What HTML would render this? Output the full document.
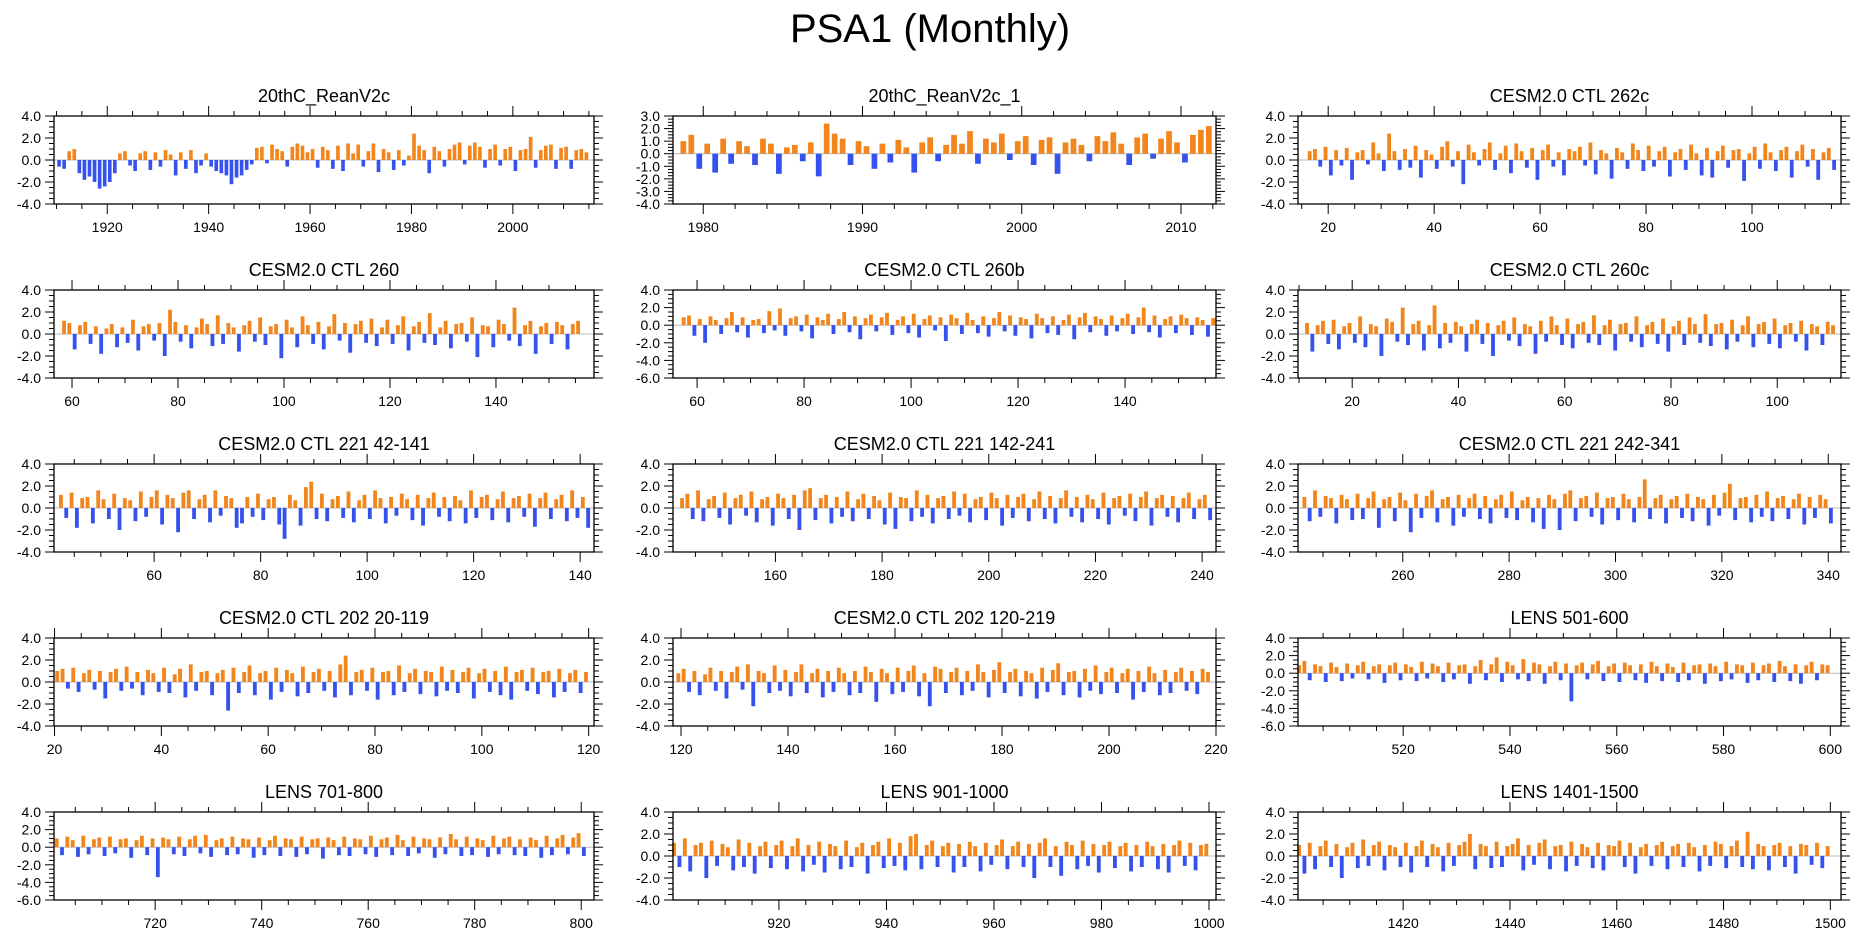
<!DOCTYPE html>
<html><head><meta charset="utf-8"><style>
html,body{margin:0;padding:0;background:#fff;}
svg{display:block;font-family:"Liberation Sans",Arial,sans-serif;}
</style></head><body>
<svg id="chart" width="1861" height="936" viewBox="0 0 1861 936" xmlns="http://www.w3.org/2000/svg">
<rect width="1861" height="936" fill="#fff"/>
<text x="930" y="42" font-size="40" text-anchor="middle">PSA1 (Monthly)</text>
</svg>
<script>
const panelTitles = ["20thC_ReanV2c","20thC_ReanV2c_1","CESM2.0 CTL 262c","CESM2.0 CTL 260","CESM2.0 CTL 260b","CESM2.0 CTL 260c","CESM2.0 CTL 221 42-141","CESM2.0 CTL 221 142-241","CESM2.0 CTL 221 242-341","CESM2.0 CTL 202 20-119","CESM2.0 CTL 202 120-219","LENS 501-600","LENS 701-800","LENS 901-1000","LENS 1401-1500"];
const xMins = [1909.5,1978.1,14.3,56.6,55.5,9.8,41.2,140.8,240.3,19.9,118.5,500.3,701,900.3,1400.3];
const xMaxs = [2016,2012.2,116.8,158.5,157,112,142.6,242.6,342.4,121,220,602,802.4,1001.3,1502];
const yMins = [-4,-4,-4,-4,-6,-4,-4,-4,-4,-4,-4,-6,-6,-4,-4];
const yMaxs = [4,3,4,4,4,4,4,4,4,4,4,4,4,4,4];
const yMajorSteps = [2,1,2,2,2,2,2,2,2,2,2,2,2,2,2];
const xMajorSteps = [20,10,20,20,20,20,20,20,20,20,20,20,20,20,20];
const xMinorSteps = [5,2,5,5,5,5,5,5,5,5,5,5,5,5,5];
const dataStarts = [1910,1978.5,16,58,57,11,42,142,241,20,119,500,701,900,1400];
const dataSteps = [1,0.5,1,1,1,1,1,1,1,1,1,1,1,1,1];

const s0 = [-0.6,-0.8,0.8,1.0,-1.2,-1.8,-1.5,-2.0,-2.6,-2.4,-2.0,-1.2,0.6,0.8,-0.5,-1.0,0.6,0.8,-0.9,0.7,-0.6,0.9,0.5,-1.4,0.7,-0.8,0.9,-1.2,-0.5,0.6,-0.6,-1.0,-1.2,-1.4,-2.2,-1.6,-1.4,-0.9,-0.4,1.1,1.2,-0.3,1.4,1.0,0.8,-0.6,1.2,1.5,1.3,0.7,1.0,-0.7,1.2,0.9,-0.8,1.3,-1.0,1.5,0.6,1.4,-0.6,0.8,1.5,-1.1,1.0,0.7,-0.9,0.9,-0.5,0.4,2.4,1.3,0.9,-1.2,1.2,0.8,-0.6,1.0,1.4,1.6,-0.4,1.3,1.6,1.2,-0.7,1.0,1.4,-0.5,1.0,1.2,-1.0,0.9,1.0,2.1,-0.7,0.9,1.3,1.4,-0.8,1.1,1.2,-0.8,0.9,1.0,0.7];
const s1 = [1.0,1.5,-1.2,0.8,-1.5,1.2,-0.8,1.0,0.6,-0.9,1.2,0.8,-1.6,0.5,0.7,-0.6,0.9,-1.8,2.4,1.6,1.2,-0.9,1.0,0.6,-1.2,0.8,-0.7,1.1,0.5,-1.5,0.9,1.3,-0.6,0.7,1.5,0.8,1.8,-0.8,1.2,0.9,1.6,-0.5,1.0,1.4,-0.9,1.1,1.3,-1.6,0.9,1.2,0.7,-0.6,1.4,1.0,1.7,0.8,-0.9,1.3,1.6,-0.4,1.2,1.8,0.9,-0.7,1.5,1.9,2.2,-0.8,1.3,1.0];
const s2 = [.8,1.0,-.6,1.2,-1.4,.9,-.5,1.1,-1.8,.7,.9,-.4,1.6,.6,-1.0,2.4,.8,-.9,1.0,-.7,1.3,-1.6,.9,.5,-.8,1.2,1.7,-.6,.8,-2.2,1.4,.7,-.5,1.0,1.6,-.9,.6,1.3,-1.2,1.5,.8,-.7,1.1,-1.8,.9,1.4,-.6,.7,-1.4,1.0,.8,1.2,-.5,1.6,-1.3,.9,.6,-1.7,1.1,.7,-.8,1.5,.9,-1.0,1.3,-.6,.8,1.2,-1.5,.7,1.0,-.9,1.4,.6,-1.4,1.1,-1.6,.8,1.3,-.7,.9,1.0,-1.9,.6,1.2,-.8,1.5,.7,-1.0,.9,1.2,-1.6,.8,1.4,-.6,1.0,-1.8,.7,1.1,-.9];
const s3 = [1.2,1.0,-1.4,.8,1.1,-.9,.7,-1.8,.5,.9,-1.2,.6,-.8,1.3,-1.5,.7,.9,-.6,1.0,-2.0,2.2,1.1,-.7,.8,-1.3,.6,1.4,.9,-1.1,1.7,-.9,1.0,.6,-1.6,.8,1.2,-.7,1.5,-1.0,.7,.9,-2.2,1.3,.6,-1.2,1.6,.8,-.9,1.1,-1.4,.7,1.8,-.6,1.0,-1.7,.9,1.2,-.8,1.4,-1.1,.6,1.3,-.9,.8,1.6,-1.5,.7,1.1,-.8,1.9,-1.0,.6,1.2,-1.3,.9,1.0,-.7,1.5,-2.1,.8,.7,-1.2,1.3,.9,-.6,2.4,-1.1,.8,1.2,-1.8,.7,1.0,-.9,1.1,.8,-1.4,.9,1.2];
const s4 = [.9,1.1,-1.2,.7,-2.0,1.0,.6,-1.0,.8,1.5,-.8,.9,-1.4,.6,.7,-.9,1.6,-.6,1.9,-1.2,.8,1.0,-.7,1.2,-1.5,.9,.6,1.3,-1.0,.7,1.5,-.8,1.0,-1.6,.8,1.2,-.7,.9,1.4,-1.1,.6,1.0,-.9,1.3,-1.4,.7,1.1,-.6,.9,-1.8,1.2,.8,-1.0,1.4,.6,-.9,1.0,-1.3,.8,1.5,-.7,1.1,-1.2,.9,.7,-1.5,1.3,.8,-.9,1.0,-1.1,.6,1.2,-1.6,.9,1.4,-.8,1.0,.7,-1.2,1.1,-.7,.8,1.3,-1.0,.9,2.0,-.8,1.1,-1.4,.7,1.0,-.9,1.2,.8,-1.1,.9,.6,-1.3,.8];
const s5 = [1.0,-1.6,.8,1.2,-.9,1.3,-1.4,.7,1.0,-.8,1.6,-1.2,.9,.7,-2.0,1.4,1.1,-.7,2.4,-1.0,.9,1.2,-1.5,.8,2.6,-1.3,1.0,-.8,1.1,.7,-1.6,.9,1.3,-.9,1.0,-2.0,.8,1.2,-.6,1.5,-1.1,.9,.7,-1.8,1.2,-.7,1.6,.8,-1.0,1.4,-1.3,.9,1.1,-.8,1.7,-1.0,.8,1.3,-1.5,.9,1.0,-.7,1.6,-1.2,.8,1.1,-.9,1.4,-1.6,.7,1.2,-1.0,1.5,.9,-.8,1.8,-1.1,.9,1.0,-1.4,1.3,-.7,.8,1.6,-1.2,.9,1.1,-.9,1.4,-1.3,.8,1.0,-.7,1.2,-1.5,.9,.7,-1.0,1.1,.8];
const s6 = [1.2,-.9,1.4,-1.8,.9,1.0,-1.4,1.6,.8,-1.0,1.3,-2.0,.9,.7,-1.2,1.5,-.8,1.0,1.6,-1.5,1.2,.9,-2.2,1.4,1.6,-1.0,.8,1.2,-1.3,1.6,-.7,1.1,.9,-1.8,-1.4,1.0,-.8,1.3,-1.1,.8,1.0,-1.5,-2.8,1.2,.7,-1.6,1.9,2.4,-1.0,1.3,-1.2,.8,1.1,-.9,1.5,-1.3,.7,1.2,-1.0,1.6,.9,-1.4,1.0,-.7,1.3,.8,-1.1,1.2,-1.6,.9,1.4,-.8,1.0,-1.2,1.1,.7,-1.4,1.6,-.9,1.0,1.2,-1.1,.8,1.5,-1.3,.9,1.1,-.8,1.3,-1.7,.9,1.4,-1.0,.8,1.2,-1.2,1.6,-.9,1.0,-1.8];
const s7 = [.9,1.3,-1.0,1.6,-1.2,.8,1.1,-.9,1.4,-1.5,.9,1.2,-.7,1.5,-1.3,.8,1.0,-1.6,1.3,.9,-1.0,1.2,-2.0,1.6,1.8,-1.1,.9,1.2,-1.4,1.0,-.8,1.5,-1.2,.8,1.3,-1.0,1.1,.7,-1.5,1.4,-1.9,1.0,.9,-1.2,1.6,-.8,1.2,-1.4,.9,1.1,-1.0,1.5,-.7,1.3,-1.3,.8,1.0,-1.1,1.4,.9,-1.6,1.2,-.9,1.0,1.3,-1.2,.8,1.5,-1.0,1.1,-1.4,.9,1.6,-.8,1.0,-1.3,1.2,.8,-1.0,1.4,-1.5,.9,1.1,-.7,1.3,-1.2,1.0,1.5,-1.6,.9,1.2,-.8,1.1,-1.3,.9,1.4,-1.0,.8,1.2,-1.1];
const s8 = [1.0,-1.2,1.6,-.8,1.1,.9,-1.4,1.2,.8,-1.1,1.3,-1.0,.9,1.5,-1.8,.8,1.0,-1.2,1.4,.7,-2.2,1.3,-.9,1.1,1.6,-1.3,.8,1.0,-1.6,1.2,-.8,.9,1.3,-1.0,1.1,-1.4,.8,1.2,-.9,1.5,-1.1,.7,1.0,-1.3,.9,-1.9,1.2,.8,-2.0,1.3,1.6,-1.2,.9,1.1,-.8,1.4,-1.5,.9,1.0,-1.1,1.3,.8,-1.3,1.0,2.6,-1.0,.9,1.2,-1.4,.8,1.1,-.9,1.3,-1.2,1.0,.8,-1.6,1.2,-.7,1.4,2.2,-1.1,.9,1.0,-1.3,1.2,-.8,1.5,-1.2,.9,1.1,-1.0,.8,1.3,-1.5,1.0,-.9,1.2,.8,-1.4];
const s9 = [1.0,1.2,-.6,1.3,-.9,.8,1.1,-.7,1.0,-1.5,.9,1.2,-.8,1.4,-.6,.9,-1.2,1.1,.8,-.9,1.3,-1.0,.7,1.2,-1.4,1.6,-.8,.9,1.0,-1.2,.8,1.1,-2.6,1.3,-1.0,.9,1.5,-1.2,.8,1.0,-1.6,1.3,-.9,1.1,.8,-1.3,1.4,-1.0,.9,1.2,-.8,1.0,-1.4,1.6,2.4,-1.2,.9,1.1,-.8,1.3,-1.6,.9,1.0,-1.2,1.5,-.9,.8,1.2,-1.1,1.0,.9,-1.3,1.4,-.8,1.1,-1.0,.9,1.3,-1.5,.8,1.2,-.9,1.0,-1.2,1.4,-1.6,.9,1.1,-.8,1.3,-1.1,.9,1.0,-1.4,1.2,-.9,.8,1.1,-1.0,.9];
const s10 = [.8,1.2,-.9,1.0,-1.2,.7,1.3,-.8,1.0,-1.5,.9,1.4,-.7,1.6,-2.2,1.0,.8,-1.0,1.5,-.8,1.1,-1.3,.9,1.6,-1.0,.8,1.2,-1.4,1.0,-.9,1.3,.8,-1.2,1.0,-1.0,1.4,.9,-1.8,1.2,.8,-1.1,1.3,-.9,1.0,1.5,-1.3,.8,-2.2,1.4,1.2,-1.0,.9,1.3,-1.2,1.0,-.8,1.6,.9,-1.4,1.1,1.8,-1.0,.9,1.2,-1.3,1.0,.8,-1.5,1.3,-.9,1.1,1.7,-1.2,.9,1.0,-1.4,1.2,-.8,1.5,-1.1,.9,1.3,-1.0,.8,1.2,-1.6,1.0,-.9,1.4,.8,-1.2,1.1,-1.0,.9,1.3,-.8,1.0,-1.1,1.2,.9];
const s11 = [.9,1.4,-.8,1.0,.8,-1.0,1.2,.7,-.9,1.1,-.6,.9,1.3,-.7,.8,1.0,-1.1,.9,1.2,-.8,1.0,.7,-.9,1.3,-.6,1.1,.8,-1.0,1.2,-.7,.9,1.0,-1.2,.8,1.5,-.8,1.0,1.8,-1.0,1.3,.9,-.7,1.6,-.9,1.2,1.0,-1.2,.8,1.3,-.8,1.1,-3.2,.9,1.2,-.7,1.0,1.4,-.9,.8,1.1,-1.0,1.2,.9,-.8,1.0,-1.1,1.3,.8,-.9,1.1,.7,-1.0,1.2,-.8,.9,1.0,-1.2,1.1,.8,-.9,1.3,-.7,1.0,.9,-1.1,1.2,-.8,.9,1.1,-1.0,1.4,.8,-.9,1.0,-1.2,.9,1.3,-.8,1.0,.9];
const s12 = [1.0,-.9,1.2,.8,-1.1,1.3,-.8,.9,1.1,-1.0,1.2,-.7,.9,1.0,-1.2,.8,1.3,-.9,1.0,-3.4,1.1,.9,-.8,1.2,-1.0,.9,1.3,-.7,1.4,-1.1,.8,1.0,-.9,1.2,-.8,1.0,.9,-1.2,1.1,-.9,.8,1.3,-1.0,1.0,.9,-1.1,1.2,-.8,.9,1.0,-1.3,1.1,.8,-.9,1.2,-1.0,1.0,.9,-.8,1.3,-1.1,.9,1.1,-.9,1.4,.8,-1.0,1.2,-.7,1.0,.9,-1.2,1.1,-.8,1.5,.9,-1.0,1.2,-.9,1.0,.8,-1.1,1.3,-.8,1.0,1.2,-.9,.9,-1.0,1.1,.8,-1.2,1.3,-.9,1.0,1.4,-.8,1.1,1.6,-1.0];
const s13 = [1.2,-1.0,1.6,-1.4,1.0,1.2,-2.0,1.4,-.9,1.1,.8,-1.3,1.5,-1.0,1.2,-1.6,.9,1.3,-1.1,1.0,1.4,-1.2,.9,1.6,-1.4,1.0,-.8,1.3,-1.5,1.1,.9,-1.2,1.4,-1.0,.8,1.2,-1.6,1.0,1.3,-1.1,1.6,-.9,1.2,-1.3,1.8,2.0,-1.2,1.0,1.4,-1.0,.9,1.2,-1.5,1.1,-1.0,1.3,.9,-1.4,1.2,-.8,1.0,1.5,-1.2,.9,1.3,-1.0,1.1,-2.0,1.2,1.6,-1.0,.9,-1.8,1.3,1.0,-1.2,1.4,-.9,1.1,-1.5,1.0,1.3,-1.1,.9,1.2,-1.4,1.0,-1.0,1.3,.9,-1.2,1.1,-1.5,1.0,1.4,-.9,1.2,-1.3,1.0,1.1];
const s14 = [1.0,-1.6,1.2,-1.2,.9,1.4,-1.0,1.1,-2.0,.8,1.2,-1.1,1.5,-.9,1.0,1.3,-1.3,1.0,.8,-1.0,1.2,-1.5,.9,1.4,-1.0,1.1,.8,-1.4,1.2,-.9,1.0,1.3,2.0,-1.2,1.1,.9,-1.1,1.3,-1.0,.9,1.1,1.6,-1.3,1.0,-.8,1.2,1.5,-1.2,.9,1.0,-1.4,1.3,-.9,1.1,.8,-1.1,1.2,-1.3,1.0,.9,1.4,-1.0,1.2,-1.6,.8,1.1,-.9,1.0,1.3,-1.2,.9,1.1,-1.0,1.2,.8,-1.4,1.0,-.9,1.3,1.1,-1.1,.9,1.4,-1.0,2.2,-1.2,1.1,.9,-1.3,1.0,1.2,-1.0,.9,-1.6,1.1,1.0,-.8,1.2,-1.1,.9];
const seriesList = [s0,s1,s2,s3,s4,s5,s6,s7,s8,s9,s10,s11,s12,s13,s14];

const NS = "http://www.w3.org/2000/svg";
const svg = document.getElementById('chart');
const rowTops = [116,290,464,638,812];
const colLefts = [54,673,1298];
const colWidths = [540,543,543];
const PH = 88;
function mk(tag, attrs, parent){
  const e = document.createElementNS(NS, tag);
  for (const k in attrs) e.setAttribute(k, attrs[k]);
  parent.appendChild(e);
  return e;
}
function fmtY(v){ return v.toFixed(1); }

for (let p = 0; p < 15; p++) {
  const r = Math.floor(p/3), c = p%3;
  const L = colLefts[c], W = colWidths[c], T = rowTops[r], B = T + PH;
  const x0 = xMins[p], x1 = xMaxs[p], y0 = yMins[p], y1 = yMaxs[p];
  const xs = v => L + (v - x0) / (x1 - x0) * W;
  const ys = v => B - (v - y0) / (y1 - y0) * PH;
  const g = mk('g', {}, svg);
  
  

  const title = mk('text', {x: L + W/2, y: T - 14, 'font-size': 18, 'text-anchor': 'middle'}, g);
  
  
  title.textContent = panelTitles[p];

  const zl = mk('line', {x1: L, x2: L+W, y1: ys(0), y2: ys(0), stroke: '#bbb', 'stroke-width': 1}, g);
  
  

  const vals = seriesList[p];
  const step = dataSteps[p];
  const bw = Math.max(1, 0.72 * step / (x1 - x0) * W);
  const bars = mk('g', {}, g);
  
  
  for (let i = 0; i < vals.length; i++) {
    const xv = dataStarts[p] + i * step + step/2;
    if (xv < x0 || xv > x1) continue;
    const v = vals[i];
    const yTop = ys(Math.max(v,0)), yBot = ys(Math.min(v,0));
    const rect = mk('rect', {x: (xs(xv) - bw/2).toFixed(2), y: yTop.toFixed(2), width: bw.toFixed(2), height: Math.max(0.5, yBot - yTop).toFixed(2), fill: v >= 0 ? '#f2861c' : '#3552ee'}, bars);
    
    
  }

  const fr = mk('rect', {x: L, y: T, width: W, height: PH, fill: 'none', stroke: '#000', 'stroke-width': 1.3}, g);
  
  

  const yt = mk('g', {stroke: '#000', 'stroke-width': 1}, g);
  
  
  const ms = yMajorSteps[p], mn = ms / 4;
  for (let k = 0; y0 + k*mn <= y1 + 1e-9; k++) {
    const v = y0 + k*mn;
    const major = Math.abs(v/ms - Math.round(v/ms)) < 1e-6;
    const len = major ? 9 : 5;
    const yy = ys(v);
    mk('line', {x1: L - len, x2: L, y1: yy, y2: yy}, yt);
    mk('line', {x1: L + W, x2: L + W + len, y1: yy, y2: yy}, yt);
    if (major) {
      const lb = mk('text', {x: L - 13, y: yy + 5, 'font-size': 14, 'text-anchor': 'end', stroke: 'none', fill: '#000'}, g);
      
      
      lb.textContent = fmtY(v);
    }
  }

  const xt = mk('g', {stroke: '#000', 'stroke-width': 1}, g);
  
  
  const xm = xMajorSteps[p], xn = xMinorSteps[p];
  for (let v = Math.ceil(x0 / xn) * xn; v <= x1; v += xn) {
    const major = v % xm === 0;
    const len = major ? 10 : 5;
    const xx = xs(v);
    mk('line', {x1: xx, x2: xx, y1: B, y2: B + len}, xt);
    mk('line', {x1: xx, x2: xx, y1: T - len, y2: T}, xt);
    if (major) {
      const lb = mk('text', {x: xx, y: B + 28, 'font-size': 14, 'text-anchor': 'middle', stroke: 'none', fill: '#000'}, g);
      
      
      lb.textContent = String(v);
    }
  }
}
</script>
</body></html>
